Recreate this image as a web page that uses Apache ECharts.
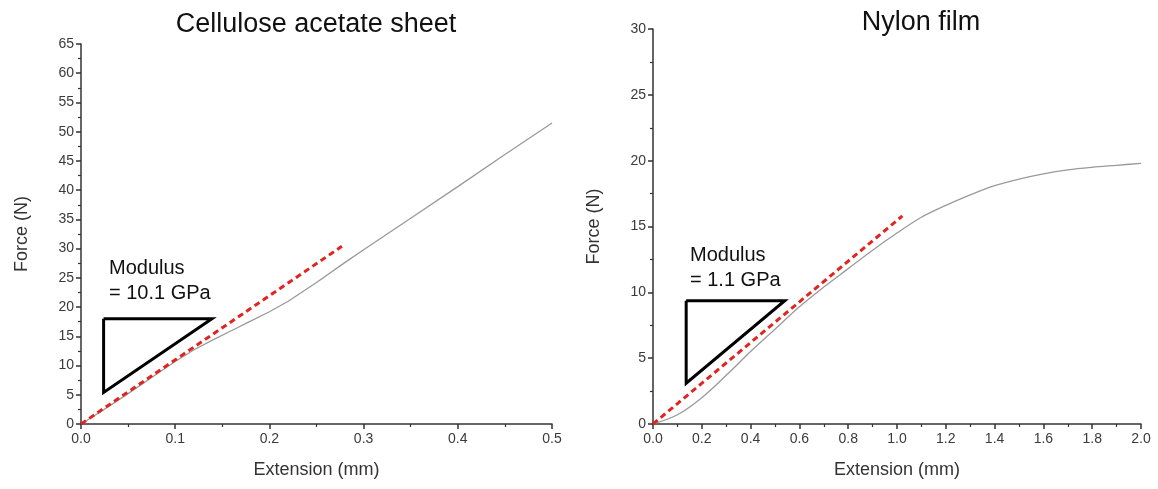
<!DOCTYPE html>
<html>
<head>
<meta charset="utf-8">
<title>Force vs extension</title>
<script src="https://cdn.jsdelivr.net/npm/echarts/dist/echarts.min.js"></script>
<style>
  html, body { margin: 0; padding: 0; background: #fff; }
  #main { width: 1158px; height: 489px; }
</style>
</head>
<body>
<div id="main"></div>
<script>
// cellulose acetate sheet: extension (mm), force (N)
var acetateExt = [0, 0.02, 0.05, 0.08, 0.1, 0.12, 0.14, 0.16, 0.18, 0.2, 0.22, 0.25, 0.28, 0.3, 0.35, 0.4, 0.45, 0.5];
var acetateForce = [0, 2.0, 5.2, 8.5, 10.7, 12.7, 14.4, 16.0, 17.6, 19.2, 21.0, 24.2, 27.6, 29.8, 35.2, 40.6, 46.1, 51.5];
var acetateFitX = [0, 0.277];
var acetateFitY = [0, 30.4];
var acetateTriX = [0.024, 0.139, 0.024, 0.024];
var acetateTriY = [18.0, 18.0, 5.4, 18.0];

// nylon film
var nylonExt = [0, 0.1, 0.2, 0.3, 0.4, 0.5, 0.6, 0.7, 0.8, 0.9, 1.0, 1.1, 1.2, 1.3, 1.4, 1.5, 1.6, 1.7, 1.8, 1.9, 2.0];
var nylonForce = [0, 0.7, 2.0, 3.7, 5.5, 7.2, 8.9, 10.4, 11.8, 13.2, 14.5, 15.7, 16.6, 17.4, 18.1, 18.6, 19.0, 19.3, 19.5, 19.65, 19.8];
var nylonFitX = [0, 1.022];
var nylonFitY = [0, 15.8];
var nylonTriX = [0.136, 0.54, 0.136, 0.136];
var nylonTriY = [9.37, 9.37, 3.1, 9.37];

var titles = ['Cellulose acetate sheet', 'Nylon film'];
var modulusText = ['Modulus\n= 10.1 GPa', 'Modulus\n= 1.1 GPa'];

function pairs(xs, ys) {
  return xs.map(function (x, i) { return [x, ys[i]]; });
}

var font = 'Liberation Sans, Arial, sans-serif';

function xAxisOf(idx, max, interval) {
  return {
    gridIndex: idx,
    type: 'value',
    min: 0,
    max: max,
    interval: interval,
    name: 'Extension (mm)',
    nameLocation: 'middle',
    nameGap: 37,
    nameTextStyle: { fontFamily: font, fontSize: 18, color: '#333' },
    axisLine: { onZero: false, lineStyle: { color: '#333', width: 1.5 } },
    axisTick: { show: true, length: 5, lineStyle: { color: '#333', width: 1.5 } },
    minorTick: { show: true, splitNumber: 2, length: 3, lineStyle: { color: '#333', width: 1.2 } },
    axisLabel: {
      fontFamily: font, fontSize: 14, color: '#3a3a3a', margin: 8,
      formatter: function (v) { return v.toFixed(1); }
    },
    splitLine: { show: false }
  };
}

function yAxisOf(idx, max, interval) {
  return {
    gridIndex: idx,
    type: 'value',
    min: 0,
    max: max,
    interval: interval,
    name: 'Force (N)',
    nameLocation: 'middle',
    nameGap: 50,
    nameTextStyle: { fontFamily: font, fontSize: 18, color: '#333' },
    axisLine: { show: true, onZero: false, lineStyle: { color: '#333', width: 1.5 } },
    axisTick: { show: true, length: 5, lineStyle: { color: '#333', width: 1.5 } },
    minorTick: { show: true, splitNumber: 2, length: 3, lineStyle: { color: '#333', width: 1.2 } },
    axisLabel: { fontFamily: font, fontSize: 14, color: '#3a3a3a', margin: 7 },
    splitLine: { show: false }
  };
}

function curve(idx, data, smooth) {
  return {
    type: 'line', xAxisIndex: idx, yAxisIndex: idx,
    data: data, smooth: smooth, symbol: 'none', z: 2,
    lineStyle: { color: '#9a9a9a', width: 1.3 }
  };
}
function fit(idx, data) {
  return {
    type: 'line', xAxisIndex: idx, yAxisIndex: idx,
    data: data, symbol: 'none', z: 3,
    lineStyle: { color: '#e3231f', width: 3, type: [6, 4] }
  };
}
function triangle(idx, data) {
  return {
    type: 'line', xAxisIndex: idx, yAxisIndex: idx,
    data: data, symbol: 'none', z: 4,
    lineStyle: { color: '#000', width: 3, join: 'miter' }
  };
}

var chart = echarts.init(document.getElementById('main'));
var option = {
  backgroundColor: '#fff',
  animation: false,
  title: [
    { text: titles[0], left: 311, top: 6, textAlign: 'center',
      textStyle: { fontFamily: font, fontSize: 27, fontWeight: 'normal', color: '#111' } },
    { text: titles[1], left: 916, top: 4, textAlign: 'center',
      textStyle: { fontFamily: font, fontSize: 27, fontWeight: 'normal', color: '#111' } }
  ],
  grid: [
    { left: 81, right: 606, top: 44, bottom: 65 },
    { left: 653, right: 17, top: 29, bottom: 65 }
  ],
  xAxis: [xAxisOf(0, 0.5, 0.1), xAxisOf(1, 2.0, 0.2)],
  yAxis: [yAxisOf(0, 65, 5), yAxisOf(1, 30, 5)],
  graphic: [
    { type: 'text', left: 109, top: 256,
      style: { text: modulusText[0], font: '20px ' + font, fill: '#111', lineHeight: 25 } },
    { type: 'text', left: 690, top: 243,
      style: { text: modulusText[1], font: '20px ' + font, fill: '#111', lineHeight: 25 } }
  ],
  series: [
    curve(0, pairs(acetateExt, acetateForce), false),
    fit(0, pairs(acetateFitX, acetateFitY)),
    triangle(0, pairs(acetateTriX, acetateTriY)),
    curve(1, pairs(nylonExt, nylonForce), 0.35),
    fit(1, pairs(nylonFitX, nylonFitY)),
    triangle(1, pairs(nylonTriX, nylonTriY))
  ]
};
chart.setOption(option);
</script>
</body>
</html>
